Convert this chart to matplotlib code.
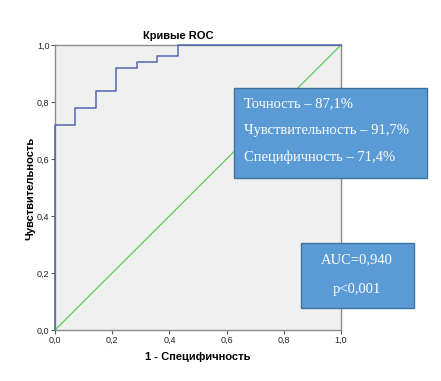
import matplotlib
matplotlib.use("Agg")
import matplotlib.pyplot as plt
from matplotlib.patches import Rectangle

fpr = [0, 0, 1/14, 1/14, 2/14, 2/14, 3/14, 3/14, 4/14, 4/14, 5/14, 5/14, 6/14, 6/14, 1.0]
tpr = [0, 0.72, 0.72, 0.78, 0.78, 0.84, 0.84, 0.92, 0.92, 0.94, 0.94, 0.96, 0.96, 1.0, 1.0]
ticks = [0, 0.2, 0.4, 0.6, 0.8, 1.0]
tick_labels = ["0,0", "0,2", "0,4", "0,6", "0,8", "1,0"]
box1_lines = ["Точность – 87,1%", "Чувствительность – 91,7%", "Специфичность – 71,4%"]
box2_lines = ["AUC=0,940", "p<0,001"]

W, H = 441, 381
fig = plt.figure(figsize=(4.41, 3.81), dpi=100)
fig.patch.set_facecolor("white")
L, R, T, B = 55, 341, 45, 330
ax = fig.add_axes([L / W, 1 - B / H, (R - L) / W, (B - T) / H])
ax.set_facecolor("#F0F0F0")
ax.set_xlim(0, 1)
ax.set_ylim(0, 1)
ax.plot([0, 1], [0, 1], color="#6CC86C", lw=1.0, zorder=2)
ax.plot(fpr, tpr, color="#5565AE", lw=1.1, zorder=3, clip_on=False)
for s in ax.spines.values():
    s.set_color("#8C8C8C")
    s.set_linewidth(1.0)
ax.set_xticks(ticks)
ax.set_xticklabels(tick_labels)
ax.set_yticks(ticks)
ax.set_yticklabels(tick_labels)
ax.tick_params(direction="out", length=3, width=0.8, color="#555555", labelsize=6.5,
               pad=1, labelcolor="#222222")
for lab in ax.get_xticklabels() + ax.get_yticklabels():
    lab.set_family("Liberation Sans")

fig.text(178 / W, 1 - 36 / H, "Кривые ROC", ha="center", va="center",
         fontsize=8, fontweight="bold", family="Liberation Sans")
fig.text(198 / W, 1 - 357 / H, "1 - Специфичность", ha="center", va="center",
         fontsize=8, fontweight="bold", family="Liberation Sans")
fig.text(30 / W, 1 - 188 / H, "Чувствительность", ha="center", va="center",
         rotation=90, fontsize=8, fontweight="bold", family="Liberation Sans")

def box(x0, y0, x1, y1):
    fig.patches.append(Rectangle((x0 / W, 1 - y1 / H), (x1 - x0) / W, (y1 - y0) / H,
                                 transform=fig.transFigure, facecolor="#5B9BD5",
                                 edgecolor="#41719C", lw=1.0, zorder=5))

box(234, 88, 427, 178)
for i, t in enumerate(box1_lines):
    fig.text(244 / W, 1 - (103.5 + 27 * i) / H, t, ha="left", va="center", color="white",
             fontsize=10.5, family="Liberation Serif", zorder=6)
box(301, 243, 414, 308)
for i, t in enumerate(box2_lines):
    fig.text(357 / W, 1 - (260 + 30 * i) / H, t, ha="center", va="center", color="white",
             fontsize=10.5, family="Liberation Serif", zorder=6)

fig.savefig("out.png", dpi=100)
